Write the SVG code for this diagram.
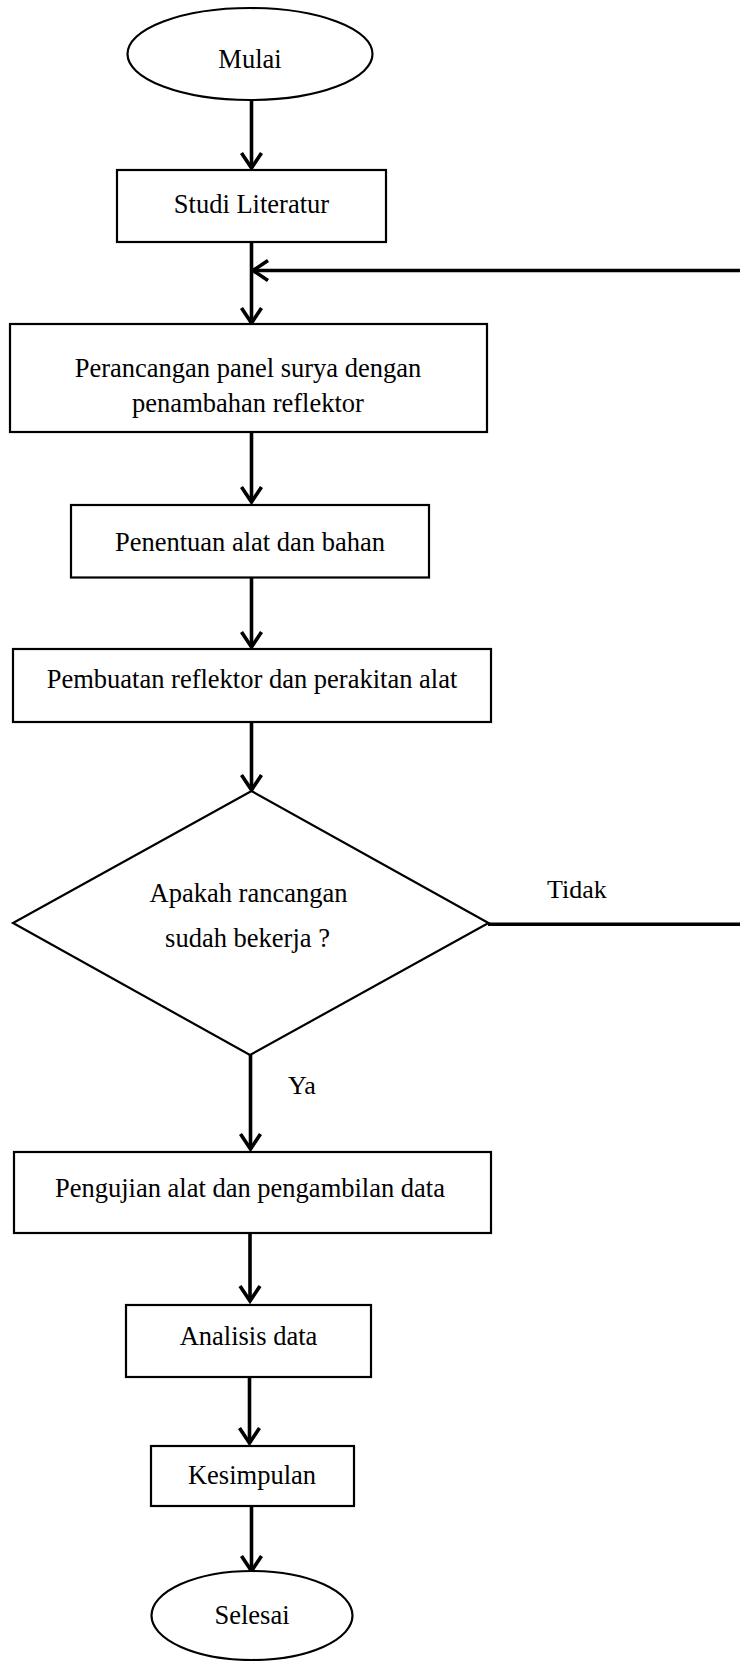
<svg xmlns="http://www.w3.org/2000/svg" width="740" height="1661" viewBox="0 0 740 1661">
<style>
.shape{fill:#fff;stroke:#000;stroke-width:2.2}
.conn{fill:none;stroke:#000;stroke-width:3.6}
text{font-family:'Times New Roman','Liberation Serif',Times,serif;fill:#000}
.t{font-size:26.5px;text-anchor:middle}
.lbl{font-size:26px}
</style>
<defs>
<marker id="arr" markerUnits="userSpaceOnUse" viewBox="0 0 20 24" markerWidth="20" markerHeight="24" refX="17" refY="12" orient="auto" overflow="visible">
<path d="M2,2 L17,12 L2,22" fill="none" stroke="#000" stroke-width="3.6"/>
</marker>
</defs>
<g id="connectors">
<line class="conn" x1="251.5" y1="100" x2="251.5" y2="168" marker-end="url(#arr)"/>
<line class="conn" x1="251.5" y1="242" x2="251.5" y2="323" marker-end="url(#arr)"/>
<line class="conn" x1="742" y1="270.5" x2="253" y2="270.5" marker-end="url(#arr)"/>
<line class="conn" x1="251.5" y1="432" x2="251.5" y2="502" marker-end="url(#arr)"/>
<line class="conn" x1="251.5" y1="578" x2="251.5" y2="647" marker-end="url(#arr)"/>
<line class="conn" x1="251.5" y1="722" x2="251.5" y2="790" marker-end="url(#arr)"/>
<line class="conn" x1="488" y1="924.3" x2="742" y2="924.3"/>
<line class="conn" x1="250.5" y1="1055" x2="250.5" y2="1149" marker-end="url(#arr)"/>
<line class="conn" x1="250" y1="1233" x2="250" y2="1301" marker-end="url(#arr)"/>
<line class="conn" x1="249.5" y1="1377" x2="249.5" y2="1443" marker-end="url(#arr)"/>
<line class="conn" x1="251.5" y1="1506" x2="251.5" y2="1571" marker-end="url(#arr)"/>
<text class="lbl" x="547" y="898">Tidak</text>
<text class="lbl" x="288" y="1094">Ya</text>
</g>
<g id="mulai">
<ellipse class="shape" cx="250" cy="54" rx="122.5" ry="46"/>
<text class="t" x="250" y="68">Mulai</text>
</g>
<g id="studi">
<rect class="shape" x="117" y="170" width="269" height="72"/>
<text class="t" x="251.5" y="213">Studi Literatur</text>
</g>
<g id="perancangan">
<rect class="shape" x="10" y="324" width="477" height="108"/>
<text class="t" x="248" y="377">Perancangan panel surya dengan</text>
<text class="t" x="248" y="411.5">penambahan reflektor</text>
</g>
<g id="penentuan">
<rect class="shape" x="71" y="505" width="358" height="72.5"/>
<text class="t" x="250" y="551">Penentuan alat dan bahan</text>
</g>
<g id="pembuatan">
<rect class="shape" x="13" y="649" width="478" height="73"/>
<text class="t" x="252" y="687.5">Pembuatan reflektor dan perakitan alat</text>
</g>
<g id="keputusan">
<polygon class="shape" points="251.5,791 488.5,923 250,1055 13,923"/>
<text class="t" x="248.5" y="901.5">Apakah rancangan</text>
<text class="t" x="247.5" y="946.5">sudah bekerja ?</text>
</g>
<g id="pengujian">
<rect class="shape" x="14" y="1152" width="477" height="81"/>
<text class="t" x="250" y="1196.5">Pengujian alat dan pengambilan data</text>
</g>
<g id="analisis">
<rect class="shape" x="126" y="1305" width="245" height="72"/>
<text class="t" x="248.5" y="1345">Analisis data</text>
</g>
<g id="kesimpulan">
<rect class="shape" x="151" y="1446" width="203" height="60"/>
<text class="t" x="252" y="1483.5">Kesimpulan</text>
</g>
<g id="selesai">
<ellipse class="shape" cx="252" cy="1615.5" rx="100.5" ry="44.5"/>
<text class="t" x="252" y="1624">Selesai</text>
</g>
</svg>
